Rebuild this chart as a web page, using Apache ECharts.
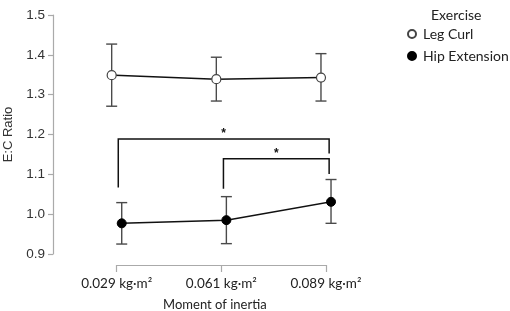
<!DOCTYPE html>
<html>
<head>
<meta charset="utf-8">
<script src="https://cdn.jsdelivr.net/npm/echarts@6/dist/echarts.min.js"></script>
<style>
  html, body { margin: 0; padding: 0; background: #fff; }
  #chart { width: 510px; height: 311px; }
</style>
</head>
<body>
<div id="chart"></div>
<script>
// categories (moment of inertia)
var categories = ['0.029 kg·m²', '0.061 kg·m²', '0.089 kg·m²'];

// Leg Curl: mean and error bar ends
var legCurlMean = [1.349, 1.339, 1.343];
var legCurlLow = [1.271, 1.284, 1.284];
var legCurlHigh = [1.427, 1.394, 1.403];

// Hip Extension: mean and error bar ends
var hipMean = [0.977, 0.985, 1.031];
var hipLow = [0.925, 0.926, 0.977];
var hipHigh = [1.029, 1.044, 1.087];

// significance brackets: [from, to, top, left end, right end]
var brackets = [
    [0.015, 2.03, 1.189, 1.067, 1.152],
    [1.02, 2.03, 1.139, 1.064, 1.101]
];

var dodge = 0.048;
var ink = '#4a4a4a';

function pts(vals, off) {
    return vals.map(function (v, i) { return [i + off, v]; });
}
function bars(lo, hi, off) {
    return lo.map(function (v, i) { return [i + off, v, hi[i]]; });
}

function errorBar(params, api) {
    var x = api.value(0);
    var a = api.coord([x, api.value(1)]);
    var b = api.coord([x, api.value(2)]);
    var w = 5.5;
    var st = { stroke: ink, lineWidth: 1.4 };
    return {
        type: 'group',
        children: [
            { type: 'line', shape: { x1: a[0], y1: a[1], x2: b[0], y2: b[1] }, style: st },
            { type: 'line', shape: { x1: a[0] - w, y1: a[1], x2: a[0] + w, y2: a[1] }, style: st },
            { type: 'line', shape: { x1: b[0] - w, y1: b[1], x2: b[0] + w, y2: b[1] }, style: st }
        ]
    };
}

function bracket(params, api) {
    var l = api.coord([api.value(0), api.value(2)]);
    var r = api.coord([api.value(1), api.value(2)]);
    var lb = api.coord([api.value(0), api.value(3)]);
    var rb = api.coord([api.value(1), api.value(4)]);
    var st = { stroke: '#111', lineWidth: 1.5, fill: null };
    return {
        type: 'group',
        children: [
            { type: 'polyline', shape: { points: [lb, l, r, rb] }, style: st },
            {
                type: 'text',
                style: {
                    x: (l[0] + r[0]) / 2, y: l[1] - 5, text: '*',
                    fill: '#111', font: 'bold 12px "Liberation Sans"',
                    align: 'center', verticalAlign: 'middle'
                }
            }
        ]
    };
}

var chart = echarts.init(document.getElementById('chart'));
chart.setOption({
    animation: false,
    backgroundColor: '#fff',
    grid: { left: 116.7, right: 184, top: 15, bottom: 57, containLabel: false, outerBoundsMode: 'none' },
    title: {
        text: 'Exercise', left: 426, top: 3,
        textStyle: { fontFamily: 'Lato', fontWeight: 'normal', fontSize: 14, color: '#222' }
    },
    legend: {
        orient: 'vertical', left: 402, top: 22, itemGap: 8,
        itemWidth: 8, itemHeight: 8,
        textStyle: { fontFamily: 'Lato', fontSize: 14, color: '#222', padding: [0, 0, 0, 2] },
        data: [
            { name: 'Leg Curl', icon: 'circle' },
            { name: 'Hip Extension', icon: 'circle' }
        ]
    },
    xAxis: {
        type: 'value', min: 0, max: 2, interval: 1, offset: 11,
        name: 'Moment of inertia', nameLocation: 'middle', nameGap: 33,
        nameTextStyle: { fontFamily: 'Lato', fontSize: 13, color: '#222', padding: [0, 13, 0, 0] },
        axisLine: { onZero: false, lineStyle: { color: '#aaa', width: 1.2 } },
        axisTick: { length: 7, lineStyle: { color: '#aaa', width: 1.2 } },
        axisLabel: {
            margin: 12, fontFamily: 'Lato', fontSize: 13.5, color: '#222',
            showMinLabel: true, showMaxLabel: true,
            formatter: function (v) { return categories[v] || ''; }
        },
        splitLine: { show: false }
    },
    yAxis: {
        type: 'value', min: 0.9, max: 1.5, interval: 0.1, offset: 63.7,
        name: 'E:C Ratio', nameLocation: 'middle', nameGap: 38,
        nameTextStyle: { fontFamily: 'Liberation Sans', fontSize: 13, color: '#333' },
        axisLine: { show: true, onZero: false, lineStyle: { color: '#aaa', width: 1.2 } },
        axisTick: { show: true, length: 5, lineStyle: { color: '#aaa', width: 1.2 } },
        axisLabel: {
            margin: 8, fontFamily: 'Liberation Sans', fontSize: 13.5, color: '#333',
            formatter: function (v) { return v.toFixed(1); }
        },
        splitLine: { show: false }
    },
    series: [
        {
            type: 'custom', name: 'lcErr', clip: false, z: 1,
            renderItem: errorBar, data: bars(legCurlLow, legCurlHigh, -dodge)
        },
        {
            type: 'custom', name: 'hipErr', clip: false, z: 1,
            renderItem: errorBar, data: bars(hipLow, hipHigh, dodge)
        },
        {
            type: 'custom', name: 'brackets', clip: false, z: 1,
            renderItem: bracket, data: brackets
        },
        {
            type: 'line', name: 'Leg Curl', clip: false, z: 3,
            symbol: 'circle', symbolSize: 9,
            lineStyle: { color: '#111', width: 1.5 },
            itemStyle: { color: '#fff', borderColor: '#444', borderWidth: 1.2 },
            data: pts(legCurlMean, -dodge)
        },
        {
            type: 'line', name: 'Hip Extension', clip: false, z: 3,
            symbol: 'circle', symbolSize: 9,
            lineStyle: { color: '#111', width: 1.5 },
            itemStyle: { color: '#000', borderColor: '#000', borderWidth: 1 },
            data: pts(hipMean, dodge)
        }
    ]
});
</script>
</body>
</html>
